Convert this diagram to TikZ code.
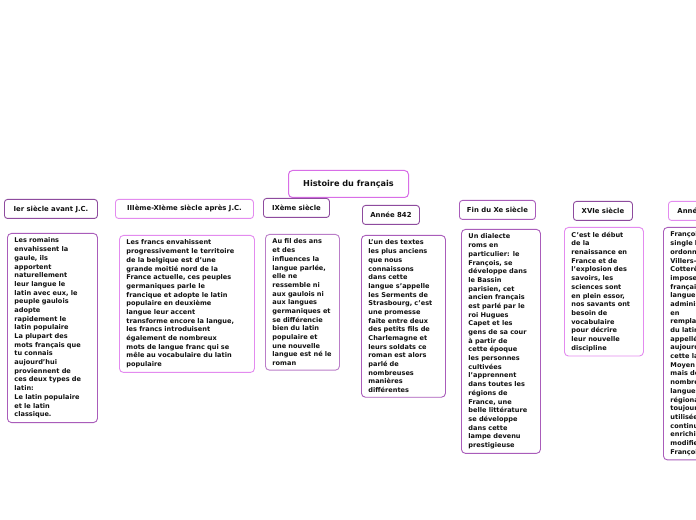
\documentclass[tikz,border=0pt]{standalone}
\usepackage{fontspec}
\setmainfont{DejaVu Sans}
\definecolor{hdrdark}{HTML}{8E4B9E}
\definecolor{lightmag}{HTML}{E38BEF}
\definecolor{bodypur}{HTML}{A95CBA}
\definecolor{titlemag}{HTML}{D86EE7}
\definecolor{txt}{HTML}{111111}
\tikzset{
  hdr/.style={draw=#1, rounded corners=3bp, line width=0.9bp, fill=white, anchor=north west,
    inner sep=0bp, minimum height=19bp, text=txt, font=\bfseries\fontsize{6.9}{8}\selectfont},
  bodybox/.style={draw=#1, rounded corners=4bp, line width=0.9bp, fill=white, anchor=north west,
    align=left, inner xsep=7bp, inner ysep=4.5bp, text=txt,
    font=\bfseries\fontsize{6.6}{8.72}\selectfont},
  titlebox/.style={draw=titlemag, rounded corners=4bp, line width=1bp, fill=white, anchor=north west,
    inner sep=0bp, minimum width=120bp, minimum height=27bp, text=txt,
    font=\bfseries\fontsize{8.2}{9}\selectfont}
}
\begin{document}
\begin{tikzpicture}[x=1bp,y=-1bp]
\useasboundingbox (0,0) rectangle (696,520);
\clip (0,0) rectangle (696,520);
\fill[white] (0,0) rectangle (696,520);

\node[titlebox] (title) at (288,170) {Histoire du français};

% headers
\node[hdr=hdrdark, minimum width=93bp] (h1) at (4,199) {Ier siècle avant J.C.};
\node[hdr=lightmag, minimum width=138bp] (h2) at (115,199) {IIIème-XIème siècle après J.C.};
\node[hdr=hdrdark, minimum width=66bp] (h3) at (263,198) {IXème siècle};
\node[hdr=hdrdark, minimum width=57bp] (h4) at (362,205) {Année 842};
\node[hdr=bodypur, minimum width=76bp] (h5) at (459,200) {Fin du Xe siècle};
\node[hdr=hdrdark, minimum width=59bp] (h6) at (573,201) {XVIe siècle};
\node[hdr=lightmag, minimum width=64bp] (h7) at (668,201) {Année 1539};

% bodies
\node[bodybox=bodypur, text width=76bp] (b1) at (7,233) {Les romains\\envahissent la\\gaule, ils\\apportent\\naturellement\\leur langue le\\latin avec eux, le\\peuple gaulois\\adopte\\rapidement le\\latin populaire\\La plupart des\\mots français que\\tu connais\\aujourd'hui\\proviennent de\\ces deux types de\\latin:\\Le latin populaire\\et le latin\\classique.};

\node[bodybox=lightmag, text width=121bp] (b2) at (119,235) {Les francs envahissent\\progressivement le territoire\\de la belgique est d'une\\grande moitié nord de la\\France actuelle, ces peuples\\germaniques parle le\\francique et adopte le latin\\populaire en deuxième\\langue leur accent\\transforme encore la langue,\\les francs introduisent\\également de nombreux\\mots de langue franc qui se\\mêle au vocabulaire du latin\\populaire};

\node[bodybox=bodypur!80, text width=60bp] (b3) at (265,234) {Au fil des ans\\et des\\influences la\\langue parlée,\\elle ne\\ressemble ni\\aux gaulois ni\\aux langues\\germaniques et\\se différencie\\bien du latin\\populaire et\\une nouvelle\\langue est né le\\roman};

\node[bodybox=bodypur, text width=70bp] (b4) at (361,235) {L'un des textes\\les plus anciens\\que nous\\connaissons\\dans cette\\langue s'appelle\\les Serments de\\Strasbourg, c'est\\une promesse\\faite entre deux\\des petits fils de\\Charlemagne et\\leurs soldats ce\\roman est alors\\parlé de\\nombreuses\\manières\\différentes};

\node[bodybox=bodypur, text width=65bp] (b5) at (461,229) {Un dialecte\\roms en\\particulier: le\\François, se\\développe dans\\le Bassin\\parisien, cet\\ancien français\\est parlé par le\\roi Hugues\\Capet et les\\gens de sa cour\\à partir de\\cette époque\\les personnes\\cultivées\\l'apprennent\\dans toutes les\\régions de\\France, une\\belle littérature\\se développe\\dans cette\\lampe devenu\\prestigieuse};

\node[bodybox=lightmag, text width=65bp] (b6) at (564,227) {C'est le début\\de la\\renaissance en\\France et de\\l'explosion des\\savoirs, les\\sciences sont\\en plein essor,\\nos savants ont\\besoin de\\vocabulaire\\pour décrire\\leur nouvelle\\discipline};

\node[bodybox=bodypur, text width=65bp] (b7) at (663,227) {François Ier\\single l'\\ordonnance de\\Villers-\\Cotterêts qui\\impose le\\français comme\\langue\\administrative\\en\\remplacement\\du latin\\appellé\\aujourd'hui\\cette langue le\\Moyen français\\mais de\\nombreuses\\langues\\régionales\\toujours\\utilisées\\continuent d'\\enrichir et\\modifier le\\François};
\end{tikzpicture}
\end{document}
